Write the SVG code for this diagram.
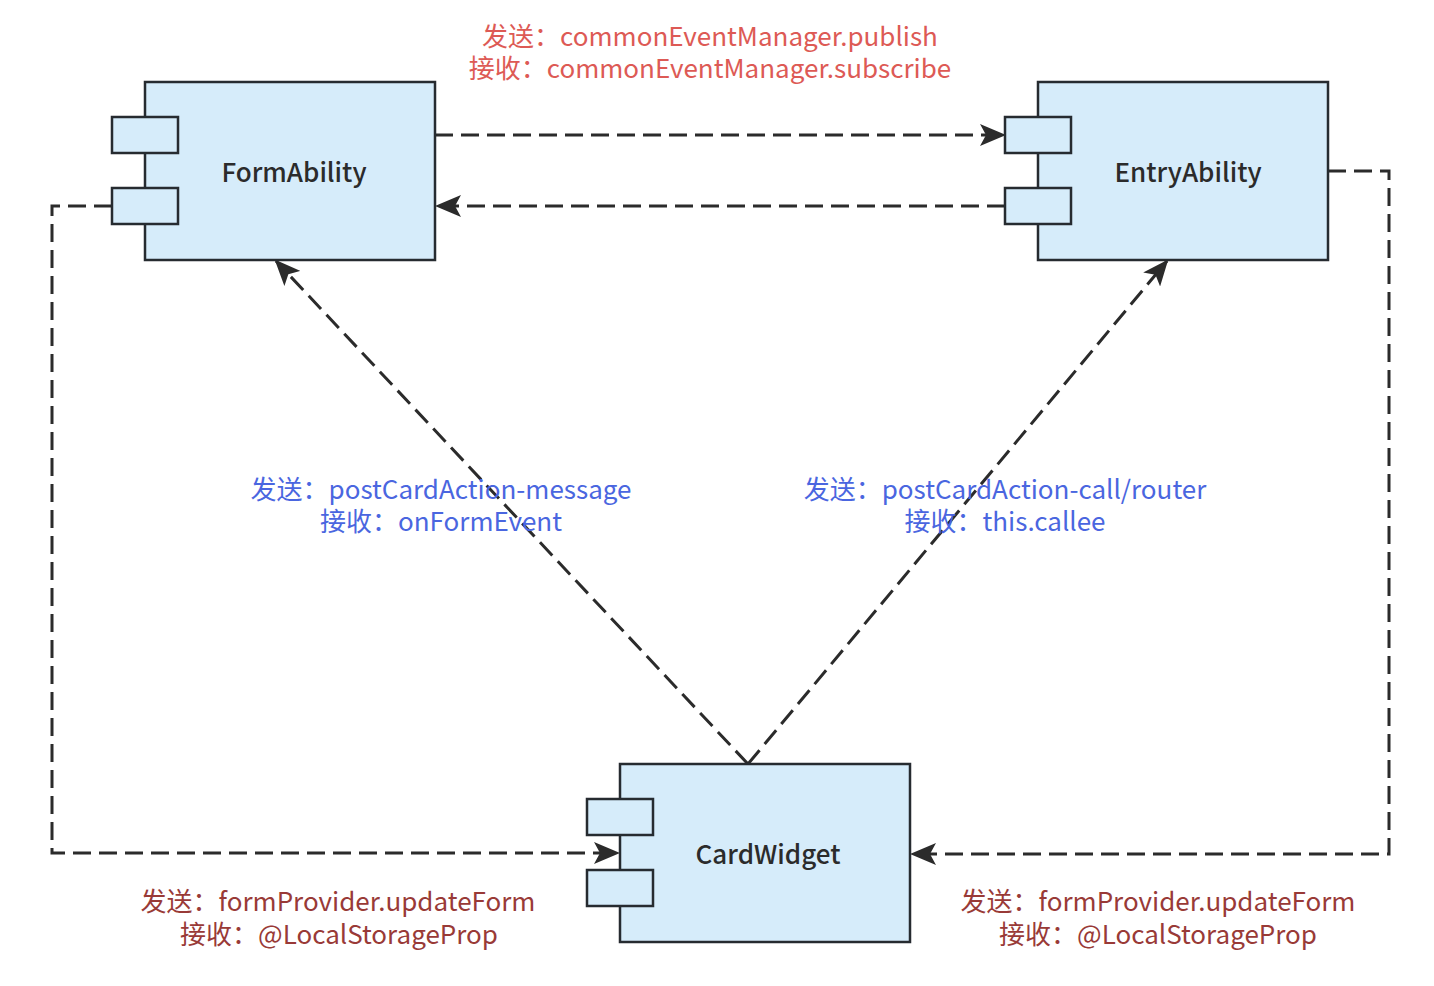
<svg xmlns="http://www.w3.org/2000/svg" width="1434" height="986" viewBox="0 0 1434 986">
<style>
.box{fill:#d6ecfa;stroke:#262b30;stroke-width:2.5}
.lbl{font-family:"Noto Sans CJK SC","Noto Sans",sans-serif;font-size:26px;font-weight:500;fill:#2b2b2b;text-anchor:middle;dominant-baseline:central}
.edge{fill:none;stroke:#2b2b2b;stroke-width:3;stroke-dasharray:18 8}
.t{font-family:"Noto Sans CJK SC","Noto Sans",sans-serif;font-size:26px;text-anchor:middle;dominant-baseline:central}
.red{fill:#dd5a55}
.blue{fill:#4a66e0}
.dred{fill:#993a37}
</style>
<defs>
<marker id="arr" markerUnits="userSpaceOnUse" markerWidth="26" markerHeight="22" viewBox="0 0 26 22" refX="24" refY="11" orient="auto">
<path d="M0,0 L26,11 L0,22 L6,11 Z" fill="#2b2b2b"/>
</marker>
</defs>
<rect width="1434" height="986" fill="#ffffff"/>
<g id="connectors">
<path class="edge" d="M435,135 L1004,135" marker-end="url(#arr)"/>
<path class="edge" d="M1005,206 L437,206" marker-end="url(#arr)"/>
<path class="edge" d="M112,206 L52,206 L52,853 L618,853" marker-end="url(#arr)"/>
<path class="edge" d="M1328,171 L1389,171 L1389,854 L912,854" marker-end="url(#arr)"/>
<path class="edge" d="M748,764 L276,261" marker-end="url(#arr)"/>
<path class="edge" d="M748,764 L1167,261" marker-end="url(#arr)"/>
</g>
<g id="FormAbility">
<rect class="box" x="145" y="82" width="290" height="178"/>
<rect class="box" x="112" y="117" width="66" height="36"/>
<rect class="box" x="112" y="188" width="66" height="36"/>
<text class="lbl" x="294" y="170">FormAbility</text>
</g>
<g id="EntryAbility">
<rect class="box" x="1038" y="82" width="290" height="178"/>
<rect class="box" x="1005" y="117" width="66" height="36"/>
<rect class="box" x="1005" y="188" width="66" height="36"/>
<text class="lbl" x="1188" y="170">EntryAbility</text>
</g>
<g id="CardWidget">
<rect class="box" x="620" y="764" width="290" height="178"/>
<rect class="box" x="587" y="799" width="66" height="36"/>
<rect class="box" x="587" y="870" width="66" height="36"/>
<text class="lbl" x="768" y="852">CardWidget</text>
</g>
<g id="labels">
<text class="t red"><tspan x="710" y="34">发送：commonEventManager.publish</tspan><tspan x="710" y="66">接收：commonEventManager.subscribe</tspan></text>
<text class="t blue"><tspan x="441" y="487">发送：postCardAction-message</tspan><tspan x="441" y="519">接收：onFormEvent</tspan></text>
<text class="t blue"><tspan x="1005" y="487">发送：postCardAction-call/router</tspan><tspan x="1005" y="519">接收：this.callee</tspan></text>
<text class="t dred"><tspan x="338" y="899">发送：formProvider.updateForm</tspan><tspan x="339" y="932">接收：@LocalStorageProp</tspan></text>
<text class="t dred"><tspan x="1158" y="899">发送：formProvider.updateForm</tspan><tspan x="1158" y="932">接收：@LocalStorageProp</tspan></text>
</g>
</svg>
